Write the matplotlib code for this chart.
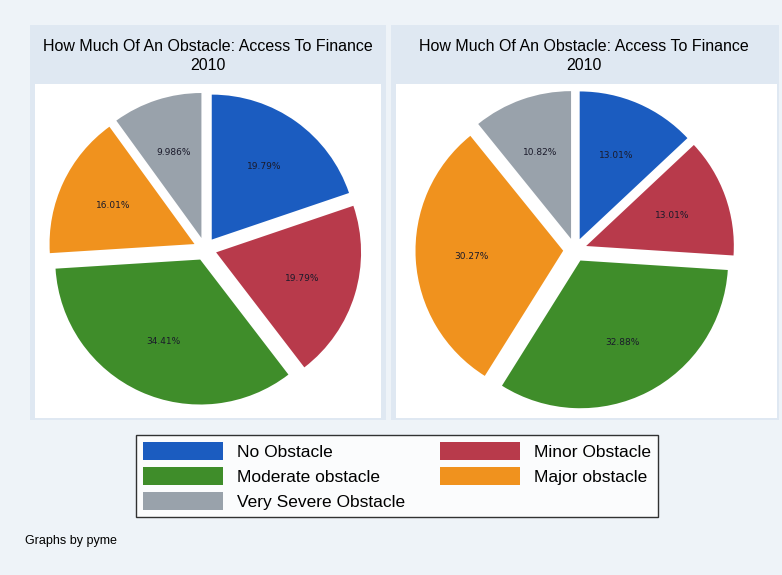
import numpy as np
import matplotlib.pyplot as plt
from matplotlib.patches import Rectangle, Patch

# obstacle categories and shares (%) for each group
categorias = ["No Obstacle", "Minor Obstacle", "Moderate obstacle",
              "Major obstacle", "Very Severe Obstacle"]
grupo1 = [19.79, 19.79, 34.41, 16.01, 9.986]
grupo2 = [13.01, 13.01, 32.88, 30.27, 10.82]
etiquetas1 = ["19.79%", "19.79%", "34.41%", "16.01%", "9.986%"]
etiquetas2 = ["13.01%", "13.01%", "32.88%", "30.27%", "10.82%"]
titulo = "How Much Of An Obstacle: Access To Finance\n2010"

colores = ["#1b5cc0", "#b83a4b", "#3f8d2a", "#f0921e", "#99a2ab"]

W, H = 782, 575
fig = plt.figure(figsize=(W / 100, H / 100), dpi=100)
fig.patch.set_facecolor("#eef3f8")


def caja(x0, y0, x1, y1, **kw):
    # rectangle in pixel coords (y from top), behind the axes
    fig.patches.append(Rectangle((x0 / W, 1 - y1 / H), (x1 - x0) / W, (y1 - y0) / H,
                                 transform=fig.transFigure, figure=fig, zorder=-5, **kw))


def ejes(cx, cy, r):
    return fig.add_axes([(cx - r) / W, 1 - (cy + r) / H, 2 * r / W, 2 * r / H])


# panel backgrounds
caja(30, 25, 386, 420, facecolor="#dfe8f2", edgecolor="none")
caja(391, 25, 779, 420, facecolor="#dfe8f2", edgecolor="none")
caja(35, 84, 381, 418, facecolor="white", edgecolor="none")
caja(396, 84, 777, 418, facecolor="white", edgecolor="none")

paneles = [(grupo1, etiquetas1, 205, 249, 208, 158),
           (grupo2, etiquetas2, 575, 250, 584, 161)]
for valores, etiq, cx, cy, tx, r in paneles:
    ax = ejes(cx, cy, r)
    ax.patch.set_alpha(0)
    cunas, _ = ax.pie(valores, colors=colores, startangle=90, counterclock=False,
                      explode=[0.08] * 5, radius=1.0)
    for c, t in zip(cunas, etiq):
        c.set_edgecolor("none")
        ang = np.deg2rad((c.theta1 + c.theta2) / 2)
        ax.text(0.62 * np.cos(ang) + c.center[0], 0.62 * np.sin(ang) + c.center[1], t,
                ha="center", va="center", fontsize=6.5, color="#1a1a2a")
    ax.set_xlim(-1.09, 1.09)
    ax.set_ylim(-1.09, 1.09)
    ax.set_aspect("equal")
    ax.axis("off")
    fig.text(tx / W, 1 - 56 / H, titulo, ha="center", va="center",
             fontsize=11.5, family="Liberation Sans", linespacing=1.3)

# legend filled row by row (two columns)
orden = [0, 2, 4, 1, 3]
leg = fig.legend(handles=[Patch(facecolor=colores[i], edgecolor="none") for i in orden],
                 labels=[categorias[i] for i in orden], ncol=2, loc="center",
                 bbox_to_anchor=(397 / W, 1 - 476 / H), frameon=True,
                 fancybox=False, edgecolor="black", handlelength=4.6,
                 handleheight=1.3, columnspacing=2.0,
                 labelspacing=0.35, borderpad=0.4,
                 prop={"family": "Liberation Sans", "size": 12.5})
leg.get_frame().set_linewidth(1.0)
leg.get_frame().set_facecolor("white")

fig.text(25 / W, 1 - 541 / H, "Graphs by pyme", fontsize=9,
         family="Liberation Sans", va="center")

fig.savefig("out.png", dpi=100, facecolor=fig.get_facecolor())
